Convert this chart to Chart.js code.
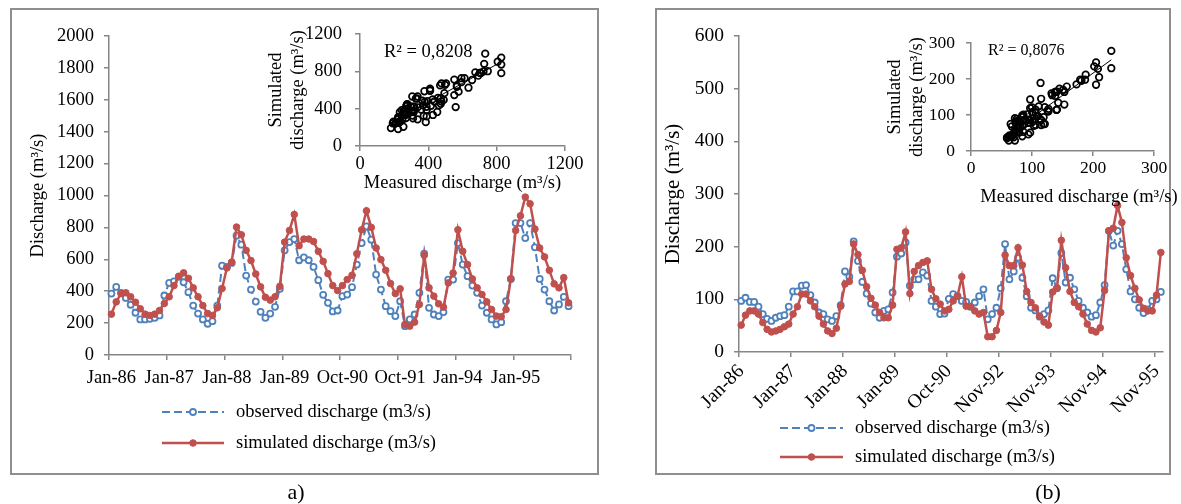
<!DOCTYPE html>
<html>
<head>
<meta charset="utf-8">
<title>Observed and simulated discharge</title>
<script src="https://cdn.jsdelivr.net/npm/chart.js@4.4.1/dist/chart.umd.min.js"></script>
<style>
  html, body { margin: 0; padding: 0; background: #fff; }
  #page { position: relative; width: 1181px; height: 504px; overflow: hidden;
          font-family: 'Liberation Serif', 'Times New Roman', serif; }
  .frame { position: absolute; border: 2px solid #8e8e8e; box-sizing: border-box; }
  .box { position: absolute; }
  .cap { position: absolute; font-size: 22px; transform: translateX(-50%); }
</style>
</head>
<body>
<div id="page">
  <div class="frame" style="left:10px;top:8px;width:589px;height:467px"></div>
  <div class="frame" style="left:655px;top:8px;width:516px;height:467px"></div>
  <div class="box" style="left:0;top:0;width:600px;height:504px"><canvas id="mainA"></canvas></div>
  <div class="box" style="left:250px;top:10px;width:350px;height:190px"><canvas id="insetA"></canvas></div>
  <div class="box" style="left:640px;top:0;width:541px;height:504px"><canvas id="mainB"></canvas></div>
  <div class="box" style="left:870px;top:15px;width:311px;height:200px"><canvas id="insetB"></canvas></div>
  <div class="cap" style="left:296px;top:479px">a)</div>
  <div class="cap" style="left:1048px;top:479px">(b)</div>
</div>
<script>
// panel a : monthly discharge, 96 months
const tickLabelsA = ['Jan-86', 'Jan-87', 'Jan-88', 'Jan-89', 'Oct-90', 'Oct-91', 'Jan-94', 'Jan-95'];
const observedA = [
  385, 427, 390, 358, 315, 265, 223, 223, 227, 233, 248, 373, 452, 462, 490, 456, 394, 310, 260, 223,
  196, 212, 310, 560, 552, 577, 748, 692, 498, 410, 335, 271, 233, 260, 302, 415, 656, 708, 727, 594,
  612, 594, 552, 469, 377, 327, 273, 279, 369, 379, 425, 567, 702, 806, 723, 504, 410, 306, 275, 244,
  337, 181, 223, 254, 390, 635, 296, 254, 244, 269, 473, 473, 702, 567, 494, 435, 390, 310, 265, 223,
  192, 206, 337, 477, 827, 827, 733, 827, 675, 477, 410, 337, 279, 317, 365, 306
];
const simulatedA = [
  256, 333, 385, 390, 365, 331, 290, 256, 248, 256, 279, 323, 365, 435, 494, 515, 481, 421, 365, 310,
  260, 248, 296, 417, 546, 583, 802, 754, 656, 592, 508, 427, 362, 344, 365, 431, 708, 781, 881, 685,
  727, 727, 712, 650, 587, 510, 435, 404, 435, 473, 500, 635, 785, 904, 800, 671, 598, 531, 448, 385,
  415, 192, 181, 206, 317, 625, 421, 369, 321, 300, 452, 514, 785, 650, 567, 477, 421, 379, 333, 285,
  244, 240, 285, 477, 781, 873, 990, 948, 790, 671, 615, 531, 446, 421, 485, 327
];
const r2TextA = 'R² = 0,8208';

// panel b : monthly discharge, 98 months
const tickLabelsB = ['Jan-86', 'Jan-87', 'Jan-88', 'Jan-89', 'Oct-90', 'Nov-92', 'Nov-93', 'Nov-94', 'Nov-95'];
const observedB = [
  97, 103, 95, 95, 86, 72, 63, 59, 65, 68, 70, 86, 115, 115, 126, 127, 108, 94, 75, 72,
  62, 59, 68, 89, 153, 143, 210, 173, 133, 111, 92, 75, 65, 78, 81, 113, 181, 187, 208, 126,
  138, 138, 151, 145, 97, 86, 72, 73, 101, 110, 106, 97, 95, 86, 94, 106, 119, 62, 72, 84,
  121, 205, 138, 153, 179, 141, 106, 84, 79, 67, 72, 79, 140, 121, 188, 132, 141, 119, 97, 84,
  75, 67, 70, 94, 127, 230, 202, 230, 205, 157, 115, 100, 84, 74, 81, 97, 100, 114
];
const simulatedB = [
  51, 70, 78, 78, 72, 56, 43, 38, 40, 43, 48, 53, 72, 86, 110, 110, 97, 86, 68, 53,
  40, 35, 45, 87, 129, 134, 205, 185, 155, 124, 102, 89, 75, 65, 65, 89, 195, 198, 228, 111,
  153, 164, 170, 173, 119, 101, 91, 78, 81, 97, 106, 143, 87, 86, 78, 72, 75, 29, 29, 41,
  75, 184, 164, 164, 198, 165, 115, 94, 84, 68, 57, 51, 114, 122, 212, 160, 115, 94, 86, 72,
  53, 41, 38, 46, 117, 230, 235, 278, 246, 179, 145, 121, 99, 83, 78, 78, 108, 189
];
const r2TextB = 'R² = 0,8076';

const seriesNames = ['observed discharge (m3/s)', 'simulated discharge (m3/s)'];

Chart.defaults.font.family = "'Liberation Serif', 'Times New Roman', serif";
Chart.defaults.color = '#000';

const axisColor = '#868686';
const blue = '#4F81BD';
const red = '#C0504D';
const plain = v => String(v);

function monthLabels(n, ticks) {
  const out = [];
  for (let i = 0; i < n; i++) out.push(i % 12 === 0 && ticks[i / 12] ? ticks[i / 12] : '');
  return out;
}

// legend drawn below the plot: line sample with marker in the middle
const seriesKey = {
  id: 'seriesKey',
  afterDraw(chart, args, o) {
    if (!o || !o.rows) return;
    const ctx = chart.ctx;
    ctx.save();
    chart.data.datasets.forEach((ds, k) => {
      const y = o.rows[k];
      ctx.strokeStyle = ds.borderColor;
      ctx.lineWidth = ds.borderWidth;
      ctx.setLineDash(ds.borderDash || []);
      ctx.beginPath(); ctx.moveTo(o.x0, y); ctx.lineTo(o.x1, y); ctx.stroke();
      ctx.setLineDash([]);
      ctx.lineWidth = ds.pointBorderWidth;
      ctx.strokeStyle = ds.pointBorderColor;
      ctx.fillStyle = ds.pointBackgroundColor;
      ctx.beginPath(); ctx.arc((o.x0 + o.x1) / 2, y, ds.pointRadius, 0, Math.PI * 2);
      ctx.fill(); ctx.stroke();
      ctx.fillStyle = '#000';
      ctx.font = o.size + "px 'Liberation Serif', 'Times New Roman', serif";
      ctx.textBaseline = 'middle';
      ctx.textAlign = 'left';
      ctx.fillText(ds.label, o.tx, y);
    });
    ctx.restore();
  }
};

// free text (R² note, axis title placed off-centre)
const noteText = {
  id: 'noteText',
  afterDraw(chart, args, o) {
    if (!o || !o.items) return;
    const ctx = chart.ctx;
    ctx.save();
    o.items.forEach(it => {
      ctx.font = it.size + "px 'Liberation Serif', 'Times New Roman', serif";
      ctx.fillStyle = '#000';
      ctx.textBaseline = 'middle';
      ctx.textAlign = it.align || 'left';
      ctx.fillText(it.text, it.x, it.y);
    });
    ctx.restore();
  }
};

function obsSet(values) {
  return {
    label: seriesNames[0], data: values, order: 1,
    borderColor: blue, borderWidth: 2, borderDash: [8, 4],
    pointRadius: 3, pointBorderWidth: 1.8, pointBorderColor: blue, pointBackgroundColor: '#fff'
  };
}
function simSet(values) {
  return {
    label: seriesNames[1], data: values, order: 0,
    borderColor: red, borderWidth: 2.5,
    pointRadius: 3.3, pointBorderWidth: 1, pointBorderColor: red, pointBackgroundColor: red
  };
}

function markEvery(every, showEnd) {
  return ctx => {
    const on = ctx.index === undefined ? showEnd : ctx.index % every === 0;
    return on ? axisColor : 'rgba(0,0,0,0)';
  };
}

function mainChart(id, obs, sim, ticks, cfg) {
  return new Chart(document.getElementById(id), {
    type: 'line',
    data: { labels: monthLabels(obs.length, ticks), datasets: [obsSet(obs), simSet(sim)] },
    options: {
      animation: false, responsive: true, maintainAspectRatio: false,
      layout: { padding: cfg.padding },
      plugins: { legend: { display: false }, tooltip: { enabled: false }, seriesKey: cfg.key },
      scales: {
        x: {
          type: 'category', offset: true,
          grid: { offset: true, drawOnChartArea: false, tickLength: 5, lineWidth: 1.5,
                  color: markEvery(12, cfg.endTick), tickColor: markEvery(12, cfg.endTick) },
          border: { color: axisColor, width: 1.5 },
          ticks: { autoSkip: false, minRotation: cfg.rot, maxRotation: cfg.rot,
                   font: { size: cfg.tickSize }, padding: cfg.xPad },
          afterFit: s => { s.height = cfg.xHeight; }
        },
        y: {
          min: 0, max: cfg.yMax,
          ticks: { stepSize: cfg.yStep, font: { size: cfg.tickSize }, padding: 10, callback: plain },
          grid: { drawOnChartArea: false, tickLength: 5, lineWidth: 1.5, color: axisColor },
          border: { color: axisColor, width: 1.5 },
          title: { display: true, text: 'Discharge (m³/s)', padding: 0, font: { size: cfg.titleSize } },
          afterFit: s => { s.width = cfg.yWidth; }
        }
      }
    },
    plugins: [seriesKey]
  });
}

function trend(xs, ys) {
  const n = xs.length;
  const mx = xs.reduce((a, b) => a + b, 0) / n;
  const my = ys.reduce((a, b) => a + b, 0) / n;
  let sxy = 0, sxx = 0;
  for (let i = 0; i < n; i++) { sxy += (xs[i] - mx) * (ys[i] - my); sxx += (xs[i] - mx) ** 2; }
  const k = sxy / sxx, b = my - k * mx;
  const lo = Math.min(...xs), hi = Math.max(...xs);
  return [{ x: lo, y: b + k * lo }, { x: hi, y: b + k * hi }];
}

function insetChart(id, obs, sim, cfg) {
  const pairs = obs.map((v, i) => ({ x: v, y: sim[i] }));
  const tickFont = { size: cfg.tickSize };
  return new Chart(document.getElementById(id), {
    type: 'scatter',
    data: {
      datasets: [
        { data: pairs, pointRadius: 3.3, pointBorderWidth: 1.7, borderColor: '#000', backgroundColor: 'rgba(0,0,0,0)' },
        { type: 'line', data: trend(obs, sim), borderColor: '#000', borderWidth: 1, pointRadius: 0 }
      ]
    },
    options: {
      animation: false, responsive: true, maintainAspectRatio: false,
      layout: { padding: cfg.padding },
      plugins: { legend: { display: false }, tooltip: { enabled: false }, noteText: { items: cfg.notes } },
      scales: {
        x: {
          type: 'linear', min: 0, max: cfg.max,
          ticks: { stepSize: cfg.step, font: tickFont, padding: 2, callback: plain },
          grid: { drawOnChartArea: false, tickLength: 5, lineWidth: 1.5, color: axisColor },
          border: { color: axisColor, width: 1.5 },
          title: { display: cfg.xTitle, text: 'Measured discharge (m³/s)', padding: 0, font: { size: 18.5 } },
          afterFit: s => { s.height = cfg.xHeight; }
        },
        y: {
          min: 0, max: cfg.max,
          ticks: { stepSize: cfg.step, font: tickFont, padding: cfg.yPad, callback: plain },
          grid: { drawOnChartArea: false, tickLength: 5, lineWidth: 1.5, color: axisColor },
          border: { color: axisColor, width: 1.5 },
          title: { display: true, text: ['Simulated', 'discharge (m³/s)'], padding: 0, font: { size: 18.5 } },
          afterFit: s => { s.width = cfg.yWidth; }
        }
      }
    },
    plugins: [noteText]
  });
}

mainChart('mainA', observedA, simulatedA, tickLabelsA, {
  padding: { left: 27, top: 36, right: 29, bottom: 109 },
  yMax: 2000, yStep: 200, yWidth: 82, xHeight: 40, xPad: 7, rot: 0, endTick: true,
  tickSize: 18.5, titleSize: 18.5,
  key: { rows: [412, 443], x0: 162, x1: 224, tx: 236, size: 18.5 }
});

mainChart('mainB', observedB, simulatedB, tickLabelsB, {
  padding: { left: 21, top: 36, right: 18, bottom: 92 },
  yMax: 600, yStep: 100, yWidth: 78, xHeight: 60, xPad: 3, rot: 45, endTick: false,
  tickSize: 19.5, titleSize: 21,
  key: { rows: [428, 457], x0: 140, x1: 203, tx: 215, size: 18.5 }
});

insetChart('insetA', observedA, simulatedA, {
  padding: { left: 15, top: 23, right: 35, bottom: 6 },
  max: 1200, step: 400, yWidth: 95, xHeight: 48, yPad: 13, tickSize: 18.5, xTitle: true,
  notes: [{ text: r2TextA, x: 134, y: 42, size: 18.5 }]
});

insetChart('insetB', observedB, simulatedB, {
  padding: { left: 14, top: 28, right: 27, bottom: 34 },
  max: 300, step: 100, yWidth: 87, xHeight: 30, yPad: 11, tickSize: 17.5, xTitle: false,
  notes: [
    { text: r2TextB, x: 118, y: 36, size: 16 },
    { text: 'Measured discharge (m³/s)', x: 209, y: 182, size: 18.5, align: 'center' }
  ]
});
</script>
</body>
</html>
